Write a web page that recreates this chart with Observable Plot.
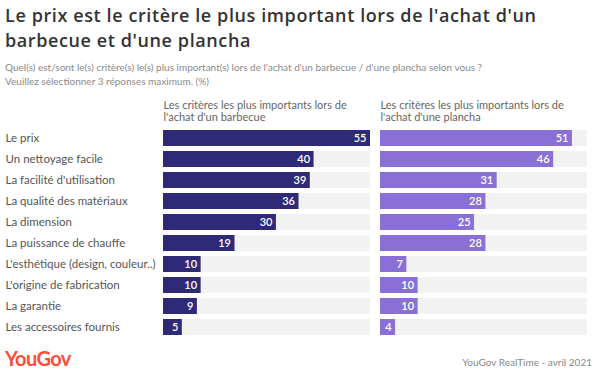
<!DOCTYPE html>
<html>
<head>
<meta charset="utf-8">
<script src="https://cdn.jsdelivr.net/npm/d3@7"></script>
<script src="https://cdn.jsdelivr.net/npm/@observablehq/plot@0.6"></script>
<style>
  html, body { margin: 0; padding: 0; background: #fff; }
  #wrap { position: relative; width: 602px; height: 376px; overflow: hidden; font-family: Lato, "Open Sans", sans-serif; }
  .title { position: absolute; left: 5px; width: 595px; font-family: "Open Sans", sans-serif; font-size: 18px; letter-spacing: 0.6px; line-height: 25px; height: 25px; font-weight: 600; color: #333; white-space: nowrap; }
  #t1 { top: 3px; }
  #t2 { top: 28px; }
  #subtitle { position: absolute; left: 5px; top: 60px; width: 595px; font-size: 10px; line-height: 14px; color: #8a8a8a; }
  #chart { position: absolute; left: 0; top: 92px; }
  #logo { position: absolute; left: 5px; top: 346px; font-size: 20px; font-weight: 700; color: #ff4b3a; letter-spacing: -0.6px; }
  #source { position: absolute; right: 10px; top: 356px; font-size: 10px; color: #888; }
</style>
</head>
<body>
<div id="wrap">
  <div class="title" id="t1">Le prix est le critère le plus important lors de l'achat d'un</div>
  <div class="title" id="t2">barbecue et d'une plancha</div>
  <div id="subtitle">Quel(s) est/sont le(s) critère(s) le(s) plus important(s) lors de l'achat d'un barbecue / d'une plancha selon vous ?<br>Veuillez sélectionner 3 réponses maximum. (%)</div>
  <div id="chart"></div>
  <div id="logo">YouGov</div>
  <div id="source">YouGov RealTime - avril 2021</div>
</div>
<script>
const categories = [
  "Le prix",
  "Un nettoyage facile",
  "La facilité d'utilisation",
  "La qualité des matériaux",
  "La dimension",
  "La puissance de chauffe",
  "L'esthétique (design, couleur..)",
  "L'origine de fabrication",
  "La garantie",
  "Les accessoires fournis"
];
const groups = ["barbecue", "plancha"];
const headers = [
  "Les critères les plus importants lors de\nl'achat d'un barbecue",
  "Les critères les plus importants lors de\nl'achat d'une plancha"
];
const barbecueValues = [55, 40, 39, 36, 30, 19, 10, 10, 9, 5];
const planchaValues = [51, 46, 31, 28, 25, 28, 7, 10, 10, 4];
const maxValue = 55;
const colors = ["#2e2a78", "#8a70d6"];

const rows = [];
categories.forEach((c, i) => {
  rows.push({cat: c, group: groups[0], value: barbecueValues[i]});
  rows.push({cat: c, group: groups[1], value: planchaValues[i]});
});
const bg = [];
categories.forEach(c => groups.forEach(g => bg.push({cat: c, group: g, value: maxValue})));
const heads = groups.map((g, i) => ({group: g, text: headers[i]}));

const chart = Plot.plot({
  width: 602,
  height: 250,
  marginLeft: 163,
  marginRight: 14,
  marginTop: 33.4,
  marginBottom: 2.6,
  style: {fontFamily: "Lato, 'Open Sans', sans-serif", fontSize: "11px", color: "#555", background: "transparent"},
  fx: {domain: groups, paddingInner: 0.046, paddingOuter: 0, axis: null},
  x: {domain: [0, maxValue], axis: null},
  y: {domain: categories, paddingInner: 0.24, paddingOuter: 0.12, label: null},
  color: {domain: groups, range: colors},
  marks: [
    Plot.barX(bg, {fx: "group", y: "cat", x: "value", fill: "#f2f2f2"}),
    Plot.barX(rows, {fx: "group", y: "cat", x: "value", fill: d => d.group === "barbecue" ? colors[0] : colors[1]}),
    Plot.text(rows, {fx: "group", y: "cat", x: "value", text: d => String(d.value), textAnchor: "end", dx: -4, fill: "white", fontWeight: 600, fontSize: 11}),
    Plot.text(heads, {fx: "group", text: "text", frameAnchor: "top-left", textAnchor: "start", lineAnchor: "bottom", dy: -5, lineHeight: 1.1, fontSize: 11, fill: "#666"}),
    Plot.axisY({anchor: "left", tickSize: 0, tickPadding: 0, textAnchor: "start", dx: -158, fontSize: 11.5, fill: "#555"})
  ]
});
document.getElementById("chart").appendChild(chart);
</script>
</body>
</html>
